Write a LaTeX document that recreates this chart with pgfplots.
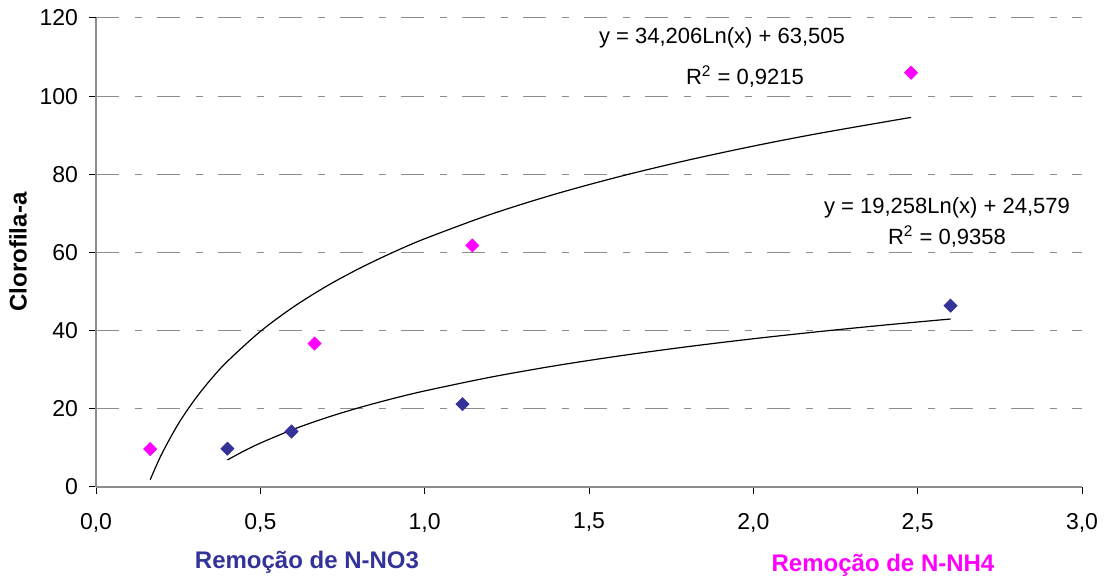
\documentclass[border=0pt]{standalone}
\usepackage{pgfplots}
\pgfplotsset{compat=1.18}
\usepackage{fontspec}
\setmainfont{Liberation Sans}
\definecolor{nblue}{HTML}{333399}
\definecolor{nmag}{HTML}{FF00FF}
\definecolor{gridg}{HTML}{8C8C8C}
\begin{document}
\begin{tikzpicture}
\path[use as bounding box] (-48pt,-47.5pt) rectangle (505.5pt,243.5pt);
\begin{axis}[
  at={(0,0)}, anchor=south west,
  scale only axis, width=493pt, height=234.5pt,
  xmin=0, xmax=3, ymin=0, ymax=120,
  axis lines=left, axis line style={-, gridg, line width=0.6pt},
  xtick={0,0.5,...,3}, ytick={0,20,...,120},
  tick align=outside, tick style={black, line width=0.5pt},
  major tick length=3.5pt,
  ymajorgrids, major grid style={gridg, line width=0.5pt, dash pattern=on 11.25pt off 8pt on 3.75pt off 7.5pt},
  /pgf/number format/assume math mode=true,
  ticklabel style={font=\fontsize{11.5}{13}\selectfont},
  xticklabel style={/pgf/number format/fixed, /pgf/number format/fixed zerofill, /pgf/number format/precision=1, /pgf/number format/use comma, yshift=-6pt},
  yticklabel style={xshift=-2pt},
  clip=false,
]
% trend lines
\addplot[black, line width=0.6pt, smooth] coordinates {
(0.165,1.87)(0.2,8.45)(0.25,16.09)(0.3,22.32)(0.35,27.60)(0.4,32.16)(0.5,39.80)(0.6,46.03)(0.7,51.31)(0.8,55.87)(0.9,59.90)(1.0,63.51)(1.2,69.74)(1.4,75.01)(1.6,79.58)(1.8,83.61)(2.0,87.22)(2.2,90.48)(2.48,94.57)};
\addplot[black, line width=0.6pt, smooth] coordinates {
(0.40,6.93)(0.45,9.20)(0.5,11.23)(0.6,14.74)(0.7,17.71)(0.8,20.28)(0.9,22.55)(1.0,24.58)(1.2,28.09)(1.4,31.06)(1.6,33.63)(1.8,35.90)(2.0,37.93)(2.2,39.76)(2.4,41.44)(2.6,42.98)};
% data
\addplot[only marks, mark=square*, mark size=2.3pt, mark options={rotate=45, fill=nmag, draw=nmag}] coordinates {
(0.165,9.7)(0.665,36.7)(1.145,61.8)(2.48,106.0)};
\addplot[only marks, mark=square*, mark size=2.3pt, mark options={rotate=45, fill=nblue, draw=nblue}] coordinates {
(0.40,9.8)(0.595,14.2)(1.115,21.2)(2.60,46.4)};
\end{axis}
\node[font=\fontsize{11}{12}\selectfont] at (313pt,224.5pt) {y = 34,206Ln(x) + 63,505};
\node[font=\fontsize{11}{12}\selectfont] at (324.5pt,205pt) {R\textsuperscript{2} = 0,9215};
\node[font=\fontsize{11}{12}\selectfont] at (425.5pt,139.5pt) {y = 19,258Ln(x) + 24,579};
\node[font=\fontsize{11}{12}\selectfont] at (425.5pt,125pt) {R\textsuperscript{2} = 0,9358};
\node[font=\bfseries\fontsize{12}{14}\selectfont, text=nblue] at (105.5pt,-37.5pt) {Remoção de N-NO3};
\node[font=\bfseries\fontsize{12}{14}\selectfont, text=nmag] at (393.5pt,-39pt) {Remoção de N-NH4};
\node[font=\bfseries\fontsize{12}{14}\selectfont, rotate=90] at (-39pt,117.5pt) {Clorofila-a};
\end{tikzpicture}
\end{document}
